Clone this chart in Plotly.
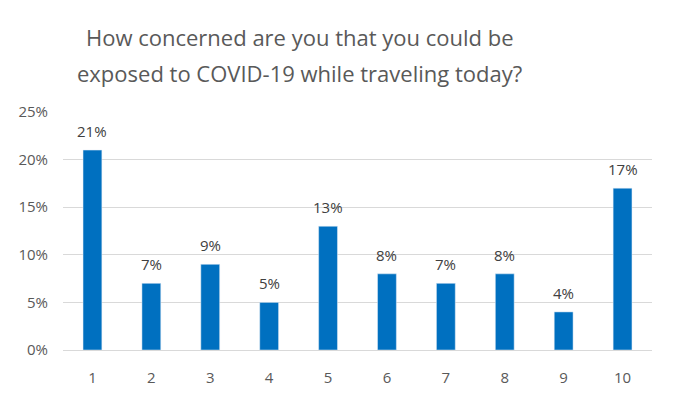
import plotly.graph_objects as go

categories = ["1", "2", "3", "4", "5", "6", "7", "8", "9", "10"]
values = [0.21, 0.07, 0.09, 0.05, 0.13, 0.08, 0.07, 0.08, 0.04, 0.17]
labels = [f"{round(v*100)}%" for v in values]
tick_vals = [0, 0.05, 0.10, 0.15, 0.20, 0.25]
tick_text = ["0%", "5%", "10%", "15%", "20%", "25%"]
title_lines = ["How concerned are you that you could be",
               "exposed to COVID-19 while traveling today?"]

fig = go.Figure(go.Bar(
    x=categories, y=values, marker_color="#0070C0", cliponaxis=False,
))

# category positions (index on the category axis)
for i, (v, lab) in enumerate(zip(values, labels)):
    fig.add_annotation(
        x=i, y=v, text=lab, showarrow=False, yanchor="bottom", yshift=7,
        font=dict(family="Open Sans", size=15, color="#404040"),
    )

for line, yy in zip(title_lines, [1.315, 1.164]):
    fig.add_annotation(
        text=line, xref="paper", yref="paper", x=0.402, y=yy,
        xanchor="center", yanchor="middle", showarrow=False,
        font=dict(family="Open Sans", size=22, color="#595959"),
    )

fig.update_layout(
    width=674, height=399,
    margin=dict(l=63, r=22, t=112, b=49),
    paper_bgcolor="white", plot_bgcolor="white",
    bargap=0.68,
    showlegend=False,
    font=dict(family="Open Sans", color="#595959"),
)
fig.update_xaxes(
    type="category", range=[-0.5, len(categories) - 0.5],
    showgrid=False, showline=True, linecolor="#D9D9D9", linewidth=1,
    tickfont=dict(size=15, color="#595959"), ticks="", ticklabelstandoff=14,
)
fig.update_yaxes(
    range=[0, 0.25], tickvals=tick_vals, ticktext=tick_text,
    showgrid=True, gridcolor="#D9D9D9", gridwidth=1, zeroline=False,
    tickfont=dict(size=15, color="#595959"), ticks="", ticklabelstandoff=14,
)

fig.write_html("out.html")
